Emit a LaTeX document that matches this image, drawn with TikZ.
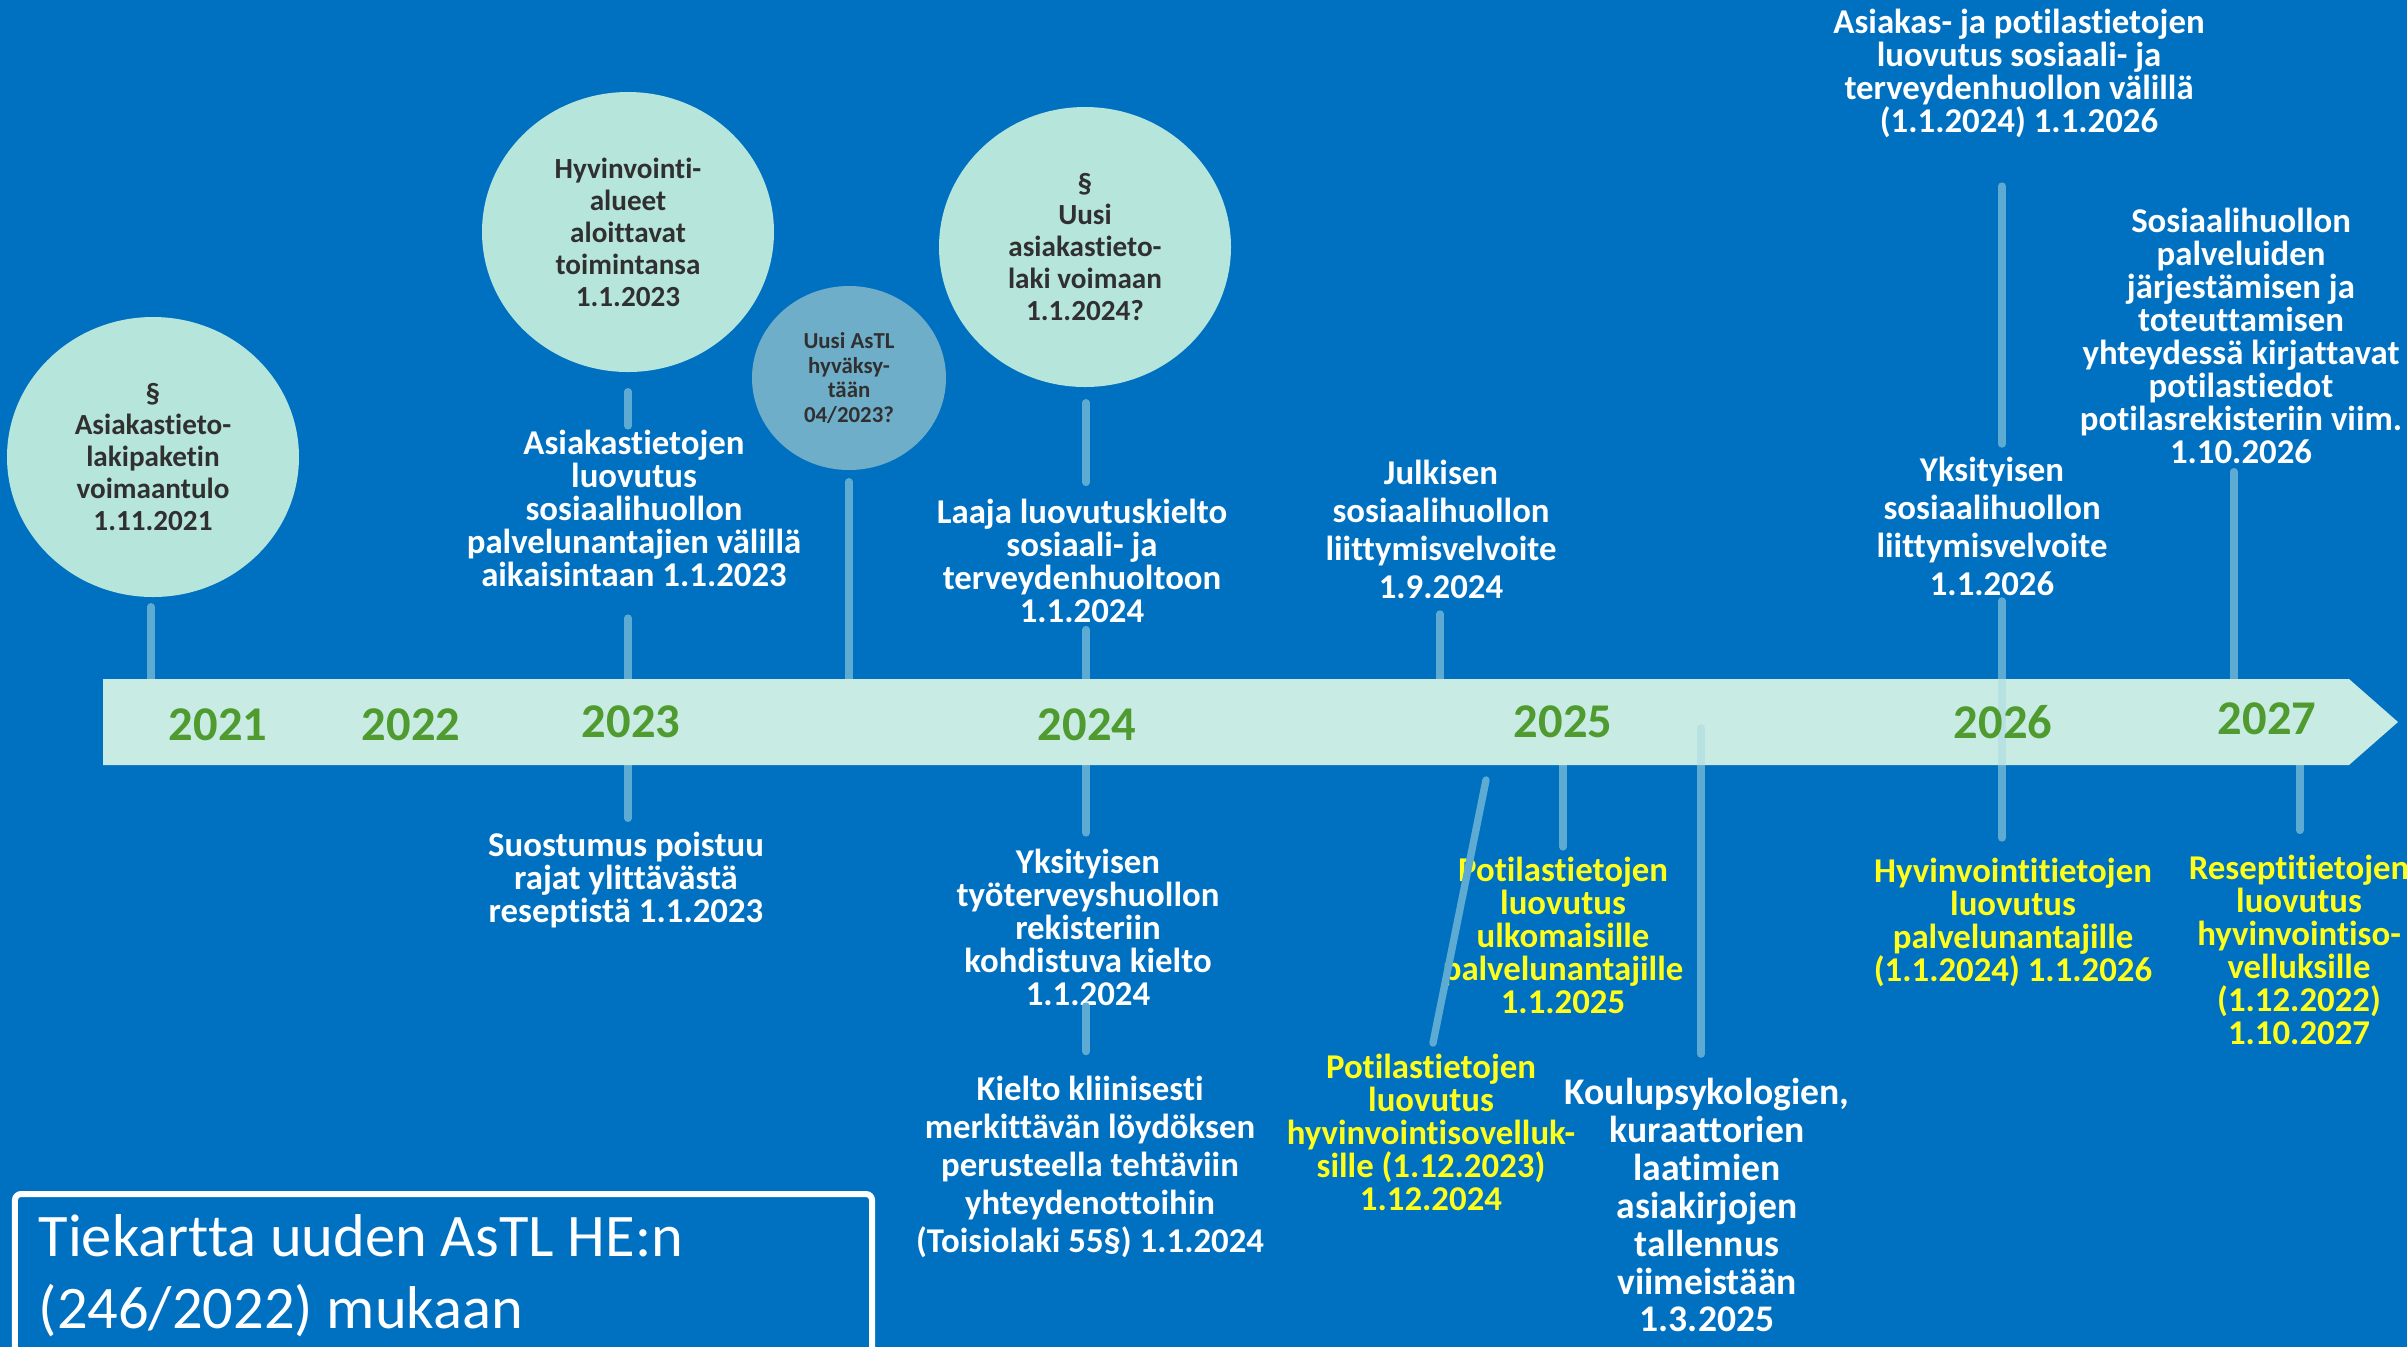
\documentclass[tikz,border=0pt]{standalone}
\usepackage{fontspec}
\setmainfont{Carlito}[Ligatures=NoCommon]
\usetikzlibrary{shapes.geometric}

\definecolor{bgblue}{HTML}{0070C0}
\definecolor{bandmint}{HTML}{C8EBE4}
\definecolor{bubblemint}{HTML}{B6E5DB}
\definecolor{bubblegrey}{HTML}{6FAEC9}
\definecolor{stemblue}{HTML}{5DAAD2}
\definecolor{yeargreen}{HTML}{4F9B2F}
\definecolor{darktext}{HTML}{303030}
\definecolor{hiyellow}{HTML}{FFFF1A}

\begin{document}
\begin{tikzpicture}[
	stemline/.style={draw=stemblue, line width=2.1pt, line cap=round},
	event/.style={text=white, align=center, inner sep=0pt, font=\bfseries\fontsize{9.9}{9.4}\selectfont},
	eventwide/.style={event, font=\bfseries\fontsize{9.9}{10.8}\selectfont},
	future/.style={event, text=hiyellow},
	bubble/.style={ellipse, fill=bubblemint, minimum width=2.92cm, minimum height=2.80cm, inner sep=0pt,
		text=darktext, align=center, font=\bfseries\fontsize{8.3}{9.1}\selectfont},
	year/.style={text=yeargreen, inner sep=0pt, font=\bfseries\fontsize{13.8}{14}\selectfont}
	]
	
	\useasboundingbox (0,0) rectangle (24.07,-13.47);
	\clip (0,0) rectangle (24.07,-13.47);
	\fill[bgblue] (0,0) rectangle (24.07,-13.47);
	
	% columns and band edges
	\coordinate (bt) at (0,-6.79);
	\coordinate (bb) at (0,-7.65);
	\coordinate (k21) at (1.51,0);
	\coordinate (k23) at (6.28,0);
	\coordinate (ks) at (8.49,0);
	\coordinate (k24) at (10.86,0);
	\coordinate (kf) at (14.40,0);
	\coordinate (kg) at (15.63,0);
	\coordinate (ki) at (17.01,0);
	\coordinate (k26) at (20.02,0);
	\coordinate (kl) at (22.34,0);
	\coordinate (kn) at (23.00,0);
	\coordinate (dg) at (14.86,-7.80);
	\coordinate (kb) at (17.01,-7.28);
	
	% bubbles
	\node[bubble] (c21) at (1.53,-4.57) {§\\Asiakastieto-\\lakipaketin\\voimaantulo\\1.11.2021};
	\node[bubble] (c23) at (6.28,-2.32) {Hyvinvointi-\\alueet\\aloittavat\\toimintansa\\1.1.2023};
	\node[bubble, fill=bubblegrey, minimum width=1.94cm, minimum height=1.84cm,
		font=\bfseries\fontsize{6.5}{7.1}\selectfont] (cs) at (8.49,-3.78) {Uusi AsTL\\hyväksy-\\tään\\04/2023?};
	\node[bubble] (cU) at (10.85,-2.47) {§\\Uusi\\asiakastieto-\\laki voimaan\\1.1.2024?};
	
	% texts
	\node[event] (tA) at (6.34,-5.08) {Asiakastietojen\\luovutus\\sosiaalihuollon\\palvelunantajien välillä\\aikaisintaan 1.1.2023};
	\node[event] (tB) at (6.26,-8.80) {Suostumus poistuu\\rajat ylittävästä\\reseptistä 1.1.2023};
	\node[event] (tC) at (10.82,-5.61) {Laaja luovutuskielto\\sosiaali- ja\\terveydenhuoltoon\\1.1.2024};
	\node[event] (tD) at (10.88,-9.27) {Yksityisen\\työterveyshuollon\\rekisteriin\\kohdistuva kielto\\1.1.2024};
	\node[eventwide] (tE) at (10.90,-11.67) {Kielto kliinisesti\\merkittävän löydöksen\\perusteella tehtäviin\\yhteydenottoihin\\(Toisiolaki 55§) 1.1.2024};
	\node[eventwide] (tF) at (14.41,-5.29) {Julkisen\\sosiaalihuollon\\liittymisvelvoite\\1.9.2024};
	\node[future] (tG) at (15.63,-9.35) {Potilastietojen\\luovutus\\ulkomaisille\\palvelunantajille\\1.1.2025};
	\node[future] (tH) at (14.31,-11.32) {Potilastietojen\\luovutus\\hyvinvointisovelluk-\\sille (1.12.2023)\\1.12.2024};
	\node[eventwide, font=\bfseries\fontsize{10.7}{10.8}\selectfont] (tI) at (17.07,-12.05) {Koulupsykologien,\\kuraattorien\\laatimien\\asiakirjojen\\tallennus\\viimeistään\\1.3.2025};
	\node[event] (tJ) at (20.19,-0.73) {Asiakas- ja potilastietojen\\luovutus sosiaali- ja\\terveydenhuollon välillä\\(1.1.2024) 1.1.2026};
	\node[eventwide] (tK) at (19.92,-5.26) {Yksityisen\\sosiaalihuollon\\liittymisvelvoite\\1.1.2026};
	\node[event] (tL) at (22.41,-3.36) {Sosiaalihuollon\\palveluiden\\järjestämisen ja\\toteuttamisen\\yhteydessä kirjattavat\\potilastiedot\\potilasrekisteriin viim.\\1.10.2026};
	\node[future] (tM) at (20.13,-9.22) {Hyvinvointitietojen\\luovutus\\palvelunantajille\\(1.1.2024) 1.1.2026};
	\node[future] (tN) at (22.99,-9.50) {Reseptitietojen\\luovutus\\hyvinvointiso-\\velluksille\\(1.12.2022)\\1.10.2027};
	
	% stems
	\draw[stemline, shorten <=0.9mm] (k21 |- c21.south) -- (k21 |- bt);
	\draw[stemline, shorten <=1.9mm, shorten >=0.3mm] (k23 |- c23.south) -- (k23 |- tA.north);
	\draw[stemline, shorten <=3.1mm] (k23 |- tA.south) -- (k23 |- bt);
	\draw[stemline, shorten >=1.3mm] (k23 |- bb) -- (k23 |- tB.north);
	\draw[stemline, shorten <=1.1mm] (ks |- cs.south) -- (ks |- bt);
	\draw[stemline, shorten <=1.5mm, shorten >=1.6mm] (k24 |- cU.south) -- (k24 |- tC.north);
	\draw[stemline, shorten <=0.6mm] (k24 |- tC.south) -- (k24 |- bt);
	\draw[stemline, shorten >=1.5mm] (k24 |- bb) -- (k24 |- tD.north);
	\draw[stemline, shorten >=2.4mm] (k24 |- tD.south) -- (k24 |- tE.north);
	\draw[stemline, shorten <=1.5mm] (kf |- tF.south) -- (kf |- bt);
	\draw[stemline, shorten >=1mm] (dg) -- (tH.north);
	\draw[stemline, shorten >=0.9mm] (kg |- bb) -- (kg |- tG.north);
	\draw[stemline, shorten >=2.3mm] (kb) -- (kb |- tI.north);
	\draw[stemline, shorten <=4.8mm, shorten >=1.2mm] (k26 |- tJ.south) -- (k26 |- tK.north);
	\draw[stemline, shorten <=0.5mm, shorten >=1.9mm] (k26 |- tK.south) -- (k26 |- tM.north);
	\draw[stemline, shorten <=0.7mm] (kl |- tL.south) -- (kl |- bt);
	\draw[stemline, shorten >=2.4mm] (kn |- bb) -- (kn |- tN.north);
	
	% band
	\fill[bandmint] (1.03,-6.79) -- (23.49,-6.79) -- (23.98,-7.22) -- (23.49,-7.65) -- (1.03,-7.65) -- cycle;
	\draw[stemline, draw opacity=0.15, shorten >=2.3mm] (kb) -- (kb |- tI.north);
	\draw[stemline, draw opacity=0.15, shorten <=0.5mm, shorten >=1.9mm] (k26 |- tK.south) -- (k26 |- tM.north);
	
	\node[year] (y21) at (2.18,-7.25) {2021};
	\node[year] (y22) at (4.11,-7.25) {2022};
	\node[year] (y23) at (6.31,-7.22) {2023};
	\node[year] (y24) at (10.87,-7.25) {2024};
	\node[year] (y25) at (15.63,-7.22) {2025};
	\node[year] (y26) at (20.03,-7.22) {2026};
	\node[year] (y27) at (22.67,-7.19) {2027};
	
	% title
	\draw[white, line width=0.6mm, rounded corners=0.6mm] (0.15,-13.9) |- (8.72,-11.94) -- (8.72,-13.9);
	\node[anchor=west, align=left, text=white, inner sep=0pt, font=\fontsize{17.2}{20.5}\selectfont] (title) at (0.38,-12.76) {Tiekartta uuden AsTL HE:n\\(246/2022) mukaan};
	
\end{tikzpicture}
\end{document}
